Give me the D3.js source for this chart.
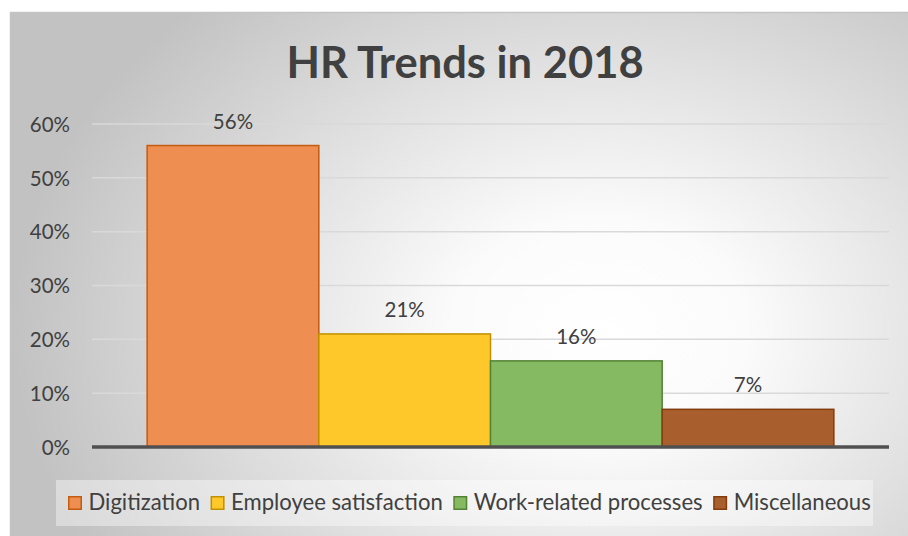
<!DOCTYPE html>
<html>
<head>
<meta charset="utf-8">
<script src="https://cdn.jsdelivr.net/npm/d3@7"></script>
<style>
  html, body { margin: 0; padding: 0; background: #ffffff; }
  svg { display: block; font-family: Lato, "Open Sans", sans-serif; }
</style>
</head>
<body>
<svg id="chart" width="908" height="536"></svg>
<script>
// Survey results: share of HR leaders naming each trend for 2018
const categories = ["2018"];
const seriesNames = ["Digitization", "Employee satisfaction", "Work-related processes", "Miscellaneous"];
const seriesValues = [0.56, 0.21, 0.16, 0.07];
const seriesFills = ["#ee8e50", "#fec82a", "#85ba62", "#a85e2d"];
const seriesStrokes = ["#c55a11", "#bf9000", "#548235", "#843c0c"];
const yTicks = [0, 0.1, 0.2, 0.3, 0.4, 0.5, 0.6];
const titleText = "HR Trends in 2018";

const svg = d3.select("#chart");

// Chart area background: soft radial light, grey towards the edges
const defs = svg.append("defs");
const grad = defs.append("radialGradient")
  .attr("id", "bgGrad")
  .attr("gradientUnits", "userSpaceOnUse")
  .attr("cx", 600).attr("cy", 330).attr("r", 560)
  .attr("gradientTransform", "translate(600,330) scale(1.05,0.8) translate(-600,-330)");
grad.append("stop").attr("offset", 0).attr("stop-color", "#ffffff");
grad.append("stop").attr("offset", 0.25).attr("stop-color", "#fbfbfb");
grad.append("stop").attr("offset", 1).attr("stop-color", "#c2c2c2");

svg.append("rect")
  .attr("x", 10.5).attr("y", 12.5)
  .attr("width", 940).attr("height", 560)
  .attr("fill", "url(#bgGrad)")
  .attr("stroke", "#c4c4c4")
  .attr("stroke-width", 1.5);

// Title
svg.append("text")
  .attr("x", 465).attr("y", 78)
  .attr("text-anchor", "middle")
  .attr("font-size", 43.5)
  .attr("font-weight", 700)
  .attr("fill", "#404040")
  .text(titleText);

// Plot scales
const plot = { left: 92, right: 889, top: 124, bottom: 447 };

const y = d3.scaleLinear()
  .domain([0, 0.6])
  .range([plot.bottom, plot.top]);

const x0 = d3.scaleBand()
  .domain(categories)
  .range([plot.left, plot.right])
  .paddingInner(0)
  .paddingOuter(0.0803);

const x1 = d3.scaleBand()
  .domain(seriesNames)
  .range([0, x0.bandwidth()])
  .padding(0);

// Gridlines
svg.append("g")
  .selectAll("line")
  .data(yTicks.filter(d => d > 0))
  .join("line")
  .attr("x1", plot.left).attr("x2", plot.right)
  .attr("y1", d => y(d)).attr("y2", d => y(d))
  .attr("stroke", "#d9d9d9")
  .attr("stroke-width", 1.5);

// Y axis labels
const yAxis = d3.axisLeft(y)
  .tickValues(yTicks)
  .tickFormat(d3.format(".0%"))
  .tickSize(0)
  .tickPadding(0);

const yg = svg.append("g")
  .attr("transform", `translate(70,0)`)
  .call(yAxis);
yg.select(".domain").remove();
yg.selectAll("text")
  .attr("font-family", "Lato, 'Open Sans', sans-serif")
  .attr("font-size", 20.5)
  .attr("fill", "#404040")
  .attr("dy", "0.35em");

// Bars
const rows = seriesNames.map((name, i) => ({
  category: categories[0],
  name,
  value: seriesValues[i],
  fill: seriesFills[i],
  stroke: seriesStrokes[i]
}));

const barG = svg.append("g");
barG.selectAll("rect")
  .data(rows)
  .join("rect")
  .attr("x", d => x0(d.category) + x1(d.name))
  .attr("y", d => y(d.value))
  .attr("width", x1.bandwidth())
  .attr("height", d => y(0) - y(d.value))
  .attr("fill", d => d.fill)
  .attr("stroke", d => d.stroke)
  .attr("stroke-width", 1.5);

// Value labels
barG.selectAll("text")
  .data(rows)
  .join("text")
  .attr("x", d => x0(d.category) + x1(d.name) + x1.bandwidth() / 2)
  .attr("y", d => y(d.value) - 17)
  .attr("text-anchor", "middle")
  .attr("font-size", 20.5)
  .attr("fill", "#404040")
  .text(d => d3.format(".0%")(d.value));

// Category axis line
svg.append("line")
  .attr("x1", plot.left).attr("x2", plot.right)
  .attr("y1", y(0)).attr("y2", y(0))
  .attr("stroke", "#505050")
  .attr("stroke-width", 3.5);

// Legend
svg.append("rect")
  .attr("x", 56).attr("y", 480)
  .attr("width", 817).attr("height", 46)
  .attr("fill", "#ffffff")
  .attr("fill-opacity", 0.4);

const legend = svg.append("g");
let lx = 68;
rows.forEach(d => {
  const item = legend.append("g");
  item.append("rect")
    .attr("x", lx + 0.75).attr("y", 496.75)
    .attr("width", 12.5).attr("height", 12.5)
    .attr("fill", d.fill)
    .attr("stroke", d.stroke)
    .attr("stroke-width", 1.5);
  const t = item.append("text")
    .attr("x", lx + 20.5).attr("y", 510)
    .attr("font-size", 22.1)
    .attr("fill", "#404040")
    .text(d.name);
  lx += 20.5 + t.node().getComputedTextLength() + 10.5;
});
</script>
</body>
</html>
